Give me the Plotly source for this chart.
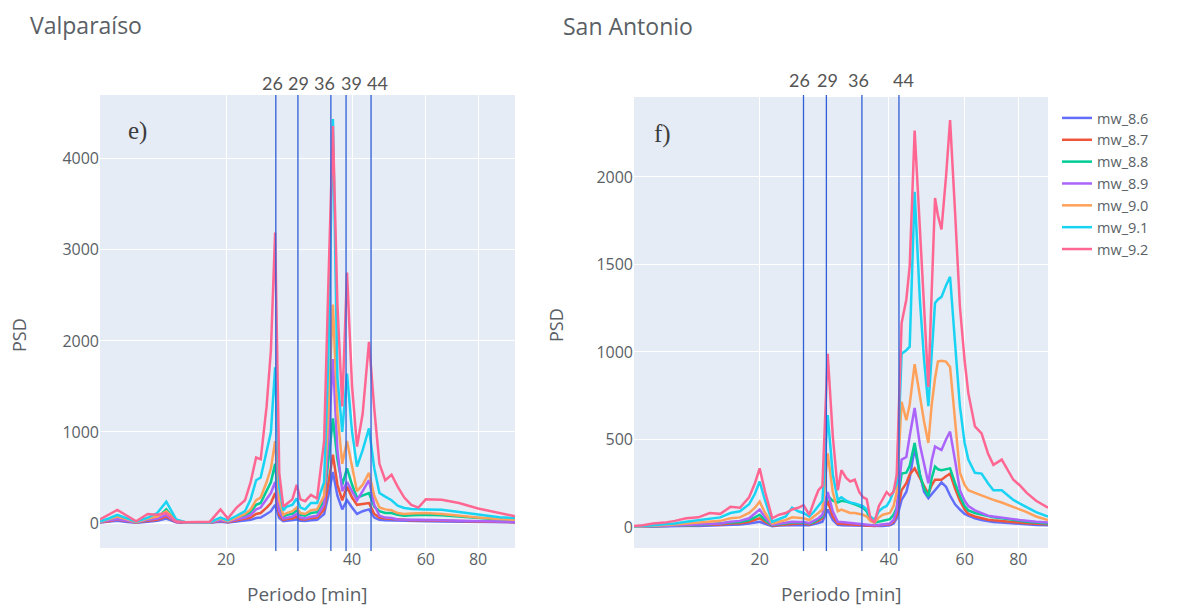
import numpy as np
import plotly.graph_objects as go
from plotly.subplots import make_subplots

# the page puts the figure 8px in from the top-left corner
OX, OY = 8, 8
FW, FH = 1175, 601


def fx(px):
    return (px - OX) / FW


def fy(py):
    return 1 - (py - OY) / FH


names = ["mw_8.6", "mw_8.7", "mw_8.8", "mw_8.9", "mw_9.0", "mw_9.1", "mw_9.2"]
colors = ["#636efa", "#EF553B", "#00cc96", "#ab63fa", "#FFA15A", "#19d3f3", "#FF6692"]

# ---- Valparaiso (panel e) ----
periodo_valpo = [10.0, 10.5, 11.0, 11.6, 12.2,
                 13.0, 13.7, 14.4, 15.2, 16.0,
                 17.1, 18.3, 19.4, 20.2, 21.2,
                 22.2, 22.9, 23.6, 24.2, 25.0,
                 25.6, 26.2, 26.8, 27.4, 27.9,
                 28.8, 29.5, 30.1, 30.9, 31.9,
                 33.0, 34.3, 35.1, 36.0, 36.9,
                 37.9, 38.9, 40.0, 41.1, 42.4,
                 43.9, 45.2, 46.5, 48.0, 49.7,
                 51.4, 53.3, 55.4, 57.6, 60.0,
                 65.5, 72.0, 80.0, 90.0, 98.0]

valpo_86 = [5, 12, 25, 12, 3,
            15, 25, 50, 8, 3,
            2, 3, 15, 6, 18,
            25, 35, 55, 60, 100,
            130, 200, 55, 20, 25,
            30, 40, 25, 22, 30,
            35, 100, 300, 560, 300,
            150, 250, 170, 100, 130,
            150, 60, 35, 30, 28,
            22, 20, 20, 20, 20,
            18, 15, 12, 9, 7]
valpo_87 = [8, 20, 40, 20, 5,
            25, 35, 70, 10, 4,
            3, 4, 25, 10, 30,
            45, 60, 100, 110, 170,
            220, 330, 90, 35, 45,
            50, 70, 45, 40, 55,
            60, 150, 450, 750, 420,
            250, 400, 280, 200, 210,
            220, 100, 60, 50, 45,
            35, 30, 30, 30, 30,
            28, 22, 18, 14, 10]
valpo_88 = [12, 40, 85, 40, 8,
            40, 60, 150, 20, 6,
            5, 6, 40, 15, 50,
            80, 120, 200, 220, 350,
            450, 650, 180, 70, 90,
            100, 140, 90, 80, 110,
            120, 250, 700, 1150, 700,
            420, 600, 420, 280, 300,
            330, 180, 130, 110, 110,
            90, 80, 85, 90, 90,
            85, 70, 55, 40, 30]
valpo_89 = [10, 25, 45, 25, 8,
            35, 50, 90, 15, 5,
            4, 5, 30, 15, 40,
            60, 90, 150, 170, 260,
            330, 450, 130, 50, 60,
            70, 100, 60, 50, 70,
            80, 200, 900, 1800, 800,
            350, 450, 350, 250, 350,
            470, 200, 80, 60, 55,
            40, 35, 35, 35, 35,
            30, 25, 20, 15, 12]
valpo_90 = [15, 40, 70, 40, 10,
            50, 70, 130, 25, 8,
            6, 8, 50, 20, 60,
            100, 150, 250, 280, 450,
            600, 900, 250, 90, 110,
            130, 170, 110, 100, 140,
            150, 300, 1200, 2400, 1200,
            650, 900, 600, 350, 420,
            550, 300, 170, 150, 140,
            110, 100, 105, 110, 110,
            100, 80, 60, 45, 35]
valpo_91 = [20, 50, 90, 50, 15,
            60, 110, 235, 40, 10,
            8, 10, 60, 30, 80,
            130, 260, 470, 500, 800,
            1000, 1710, 400, 140, 180,
            200, 270, 170, 150, 220,
            220, 450, 1800, 4435, 1600,
            1000, 1640, 1000, 620, 800,
            1040, 600, 330, 290, 250,
            190, 165, 155, 150, 150,
            145, 120, 90, 65, 55]
valpo_92 = [40, 90, 145, 80, 20,
            100, 90, 110, 20, 10,
            10, 15, 150, 50, 170,
            250, 450, 720, 700, 1280,
            1900, 3190, 550, 180, 210,
            260, 420, 260, 240, 310,
            270, 900, 2600, 4360, 2400,
            1280, 2750, 1500, 840, 1200,
            1990, 1250, 650, 470, 530,
            400, 280, 200, 170, 260,
            255, 220, 160, 110, 75]

# ---- San Antonio (panel f) ----
periodo_sa = [10.2, 10.7, 11.3, 12.0, 12.7,
              13.5, 14.4, 15.3, 16.2, 17.1,
              18.0, 18.9, 19.5, 20.0, 20.6,
              21.4, 22.2, 23.0, 23.8, 24.6,
              25.3, 26.1, 26.8, 27.4, 28.0,
              28.8, 29.6, 30.4, 31.0, 31.8,
              32.5, 33.3, 34.1, 34.8, 35.5,
              36.2, 37.0, 37.9, 38.7, 39.5,
              40.2, 41.0, 41.7, 42.8, 43.9,
              44.7, 45.9, 47.2, 48.3, 49.4,
              50.3, 51.2, 52.0, 53.0, 54.3,
              55.5, 57.0, 58.5, 60.0, 61.2,
              63.4, 65.7, 68.0, 70.0, 73.2,
              77.9, 80.5, 83.7, 88.0, 93.8]

sa_86 = [1, 1, 2, 3, 4,
         5, 6, 8, 9, 12,
         14, 20, 25, 30, 18,
         5, 8, 10, 12, 12,
         12, 10, 15, 22, 30,
         100, 40, 12, 10, 9,
         8, 8, 7, 6, 5,
         4, 3, 5, 6, 8,
         10, 20, 50, 155, 200,
         280, 450, 300, 200, 165,
         190, 210, 230, 255, 230,
         180, 130, 100, 75, 65,
         50, 40, 32, 28, 25,
         20, 18, 15, 12, 10]
sa_87 = [1, 2, 3, 5, 6,
         8, 10, 12, 14, 20,
         22, 30, 40, 50, 30,
         8, 12, 15, 20, 20,
         20, 15, 25, 35, 50,
         150, 60, 20, 18, 16,
         15, 14, 13, 12, 10,
         8, 6, 10, 12, 14,
         16, 30, 70, 210, 250,
         300, 335, 280, 230, 190,
         240, 270, 270, 270, 290,
         305, 220, 150, 100, 75,
         60, 50, 42, 38, 35,
         28, 25, 22, 18, 15]
sa_88 = [1, 2, 4, 6, 8,
         10, 12, 15, 18, 25,
         28, 40, 55, 70, 40,
         10, 15, 20, 25, 25,
         25, 20, 30, 45, 60,
         180, 150, 140, 150, 145,
         140, 130, 120, 110, 90,
         40, 25, 30, 35, 40,
         45, 70, 110, 305, 310,
         350, 480, 300, 220, 175,
         280, 345, 330, 325, 330,
         335, 250, 175, 120, 95,
         80, 70, 60, 55, 50,
         40, 35, 30, 25, 20]
sa_89 = [1, 2, 4, 6, 8,
         12, 15, 18, 20, 30,
         35, 50, 75, 100, 55,
         12, 18, 22, 30, 28,
         28, 22, 35, 50, 70,
         200, 90, 30, 28, 25,
         25, 22, 20, 18, 15,
         10, 8, 12, 15, 18,
         20, 40, 100, 385, 400,
         520, 680, 470, 350, 250,
         380, 460, 450, 440, 500,
         545, 380, 210, 150, 120,
         95, 80, 65, 60, 55,
         45, 40, 35, 30, 25]
sa_90 = [2, 4, 7, 10, 14,
         20, 25, 30, 35, 50,
         55, 80, 110, 145, 80,
         20, 30, 40, 55, 50,
         50, 40, 60, 80, 100,
         420, 200, 90, 100, 90,
         80, 80, 75, 70, 60,
         35, 25, 55, 70, 75,
         80, 120, 200, 715, 610,
         700, 930, 750, 600, 480,
         700, 850, 945, 950, 945,
         915, 600, 310, 240, 210,
         195, 180, 165, 155, 140,
         115, 100, 85, 60, 40]
sa_91 = [3, 5, 10, 15, 20,
         30, 40, 50, 55, 80,
         90, 130, 190, 260, 150,
         30, 45, 60, 110, 90,
         80, 60, 90, 120, 150,
         640, 300, 155, 170, 150,
         140, 135, 125, 120, 100,
         60, 40, 90, 110, 120,
         150, 200, 250, 990, 1010,
         1030, 1915, 1300, 950, 690,
         1000, 1280, 1300, 1315, 1380,
         1430, 1050, 690, 480, 385,
         310, 305, 250, 210, 210,
         155, 135, 115, 85, 60]
sa_92 = [5, 10, 20, 25, 35,
         50, 55, 80, 75, 115,
         110, 170, 250, 335, 200,
         50, 70, 80, 100, 110,
         125, 70, 150, 210, 235,
         990, 520, 210, 325, 280,
         260, 270, 200, 170, 160,
         50, 25, 120, 160, 200,
         180, 200, 300, 1165, 1300,
         1490, 2265, 1700, 1250, 800,
         1350, 1880, 1780, 1700, 2000,
         2325, 1800, 1260, 950, 765,
         575, 535, 420, 355, 385,
         270, 240, 195, 150, 110]

valpo = [valpo_86, valpo_87, valpo_88, valpo_89, valpo_90, valpo_91, valpo_92]
sanantonio = [sa_86, sa_87, sa_88, sa_89, sa_90, sa_91, sa_92]

# periods marked with hand-drawn lines, and their labels
lineas_valpo = [26.3, 29.7, 35.6, 38.7, 44.4]
etiquetas_valpo = ["26", "29", "36", "39", "44"]
lineas_sa = [25.3, 28.6, 34.6, 42.2]
etiquetas_sa = ["26", "29", "36", "44"]

fig = make_subplots(rows=1, cols=2)

for i in range(7):
    fig.add_trace(go.Scatter(x=periodo_valpo, y=valpo[i], mode="lines", name=names[i],
                             line=dict(color=colors[i], width=2.5), showlegend=False),
                  row=1, col=1)
    fig.add_trace(go.Scatter(x=periodo_sa, y=sanantonio[i], mode="lines", name=names[i],
                             line=dict(color=colors[i], width=2.5)),
                  row=1, col=2)

txt = "#5a5f66"
fig.update_xaxes(type="log", tickvals=[20, 40, 60, 80], ticktext=["20", "40", "60", "80"],
                 tickfont=dict(size=16, color=txt), showline=False)
fig.update_yaxes(tickfont=dict(size=16, color=txt), zerolinewidth=2)
fig.update_layout(
    xaxis=dict(domain=[fx(100), fx(515)], range=[np.log10(10.0), np.log10(98.0)]),
    xaxis2=dict(domain=[fx(634), fx(1048)], range=[np.log10(10.2), np.log10(93.8)]),
    yaxis=dict(domain=[fy(548), fy(95)], range=[-274, 4700], tickvals=[0, 1000, 2000, 3000, 4000]),
    yaxis2=dict(domain=[fy(548), fy(97)], range=[-120, 2457], tickvals=[0, 500, 1000, 1500, 2000]),
)

# vertical marker lines
for p in lineas_valpo:
    fig.add_shape(type="line", xref="x", yref="paper", x0=p, x1=p,
                  y0=fy(551), y1=fy(95), line=dict(color="#2f5fd6", width=1.3))
for p in lineas_sa:
    fig.add_shape(type="line", xref="x2", yref="paper", x0=p, x1=p,
                  y0=fy(551), y1=fy(95), line=dict(color="#2f5fd6", width=1.3))

annots = []


def note(text, px, py, size, color=txt, family=None, xanchor="center", yanchor="middle", angle=0):
    f = dict(size=size, color=color)
    if family:
        f["family"] = family
    annots.append(dict(text=text, x=fx(px), y=fy(py), xref="paper", yref="paper",
                       xanchor=xanchor, yanchor=yanchor, showarrow=False,
                       borderpad=0, textangle=angle, font=f))


# period labels above the panels
lab_px_valpo = [272, 298, 324, 351, 377]
lab_px_sa = [800, 827, 858, 903]
for t, px in zip(etiquetas_valpo, lab_px_valpo):
    note(t, px, 83, 18, "#555555", "Lato")
for t, px in zip(etiquetas_sa, lab_px_sa):
    note(t, px, 80, 18, "#555555", "Lato")

# panel letters
note("e)", 137, 131, 25, "#3c3c3c", "Liberation Serif")
note("f)", 662, 134, 25, "#3c3c3c", "Liberation Serif")

# titles (anchored at the top edge so they are not clipped)
note("Valparaíso", 29, 8, 23, xanchor="left", yanchor="top")
note("San Antonio", 562, 9, 23, xanchor="left", yanchor="top")

# axis titles
note("Periodo [min]", 307, 594, 19)
note("Periodo [min]", 841, 594, 19)
note("PSD", 19, 335, 18, angle=-90)
note("PSD", 556, 325, 18, angle=-90)

fig.update_layout(
    width=FW, height=FH, autosize=False,
    margin=dict(l=0, r=0, t=0, b=0),
    font=dict(family="Open Sans", color=txt),
    paper_bgcolor="white",
    annotations=annots,
    legend=dict(x=fx(1057), y=fy(102), xanchor="left", yanchor="top",
                font=dict(size=14.5, color=txt), bgcolor="rgba(0,0,0,0)"),
)

fig.write_html("out.html")
